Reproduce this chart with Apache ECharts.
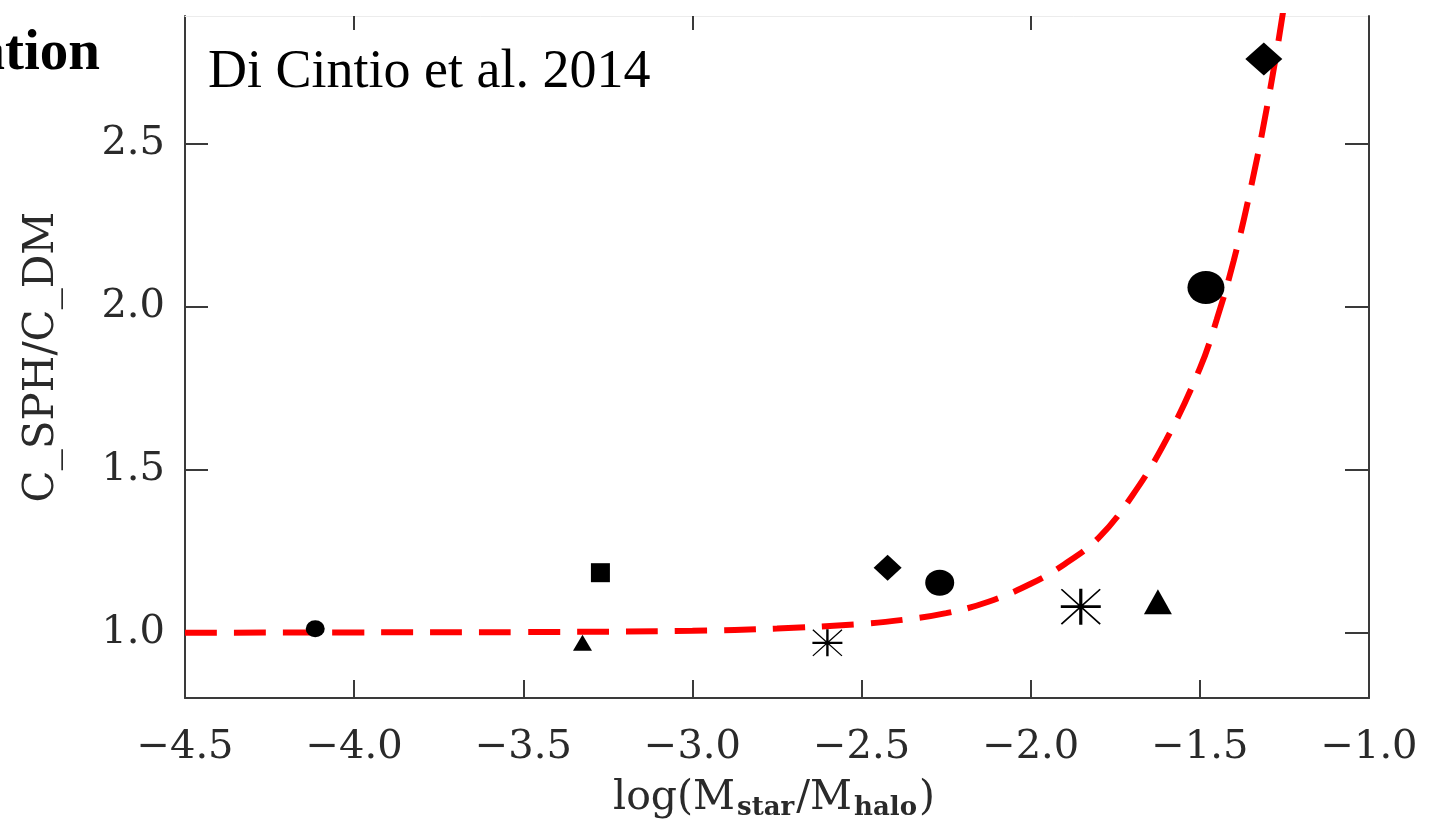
<!DOCTYPE html>
<html>
<head>
<meta charset="utf-8">
<title>Concentration ratio vs stellar-to-halo mass</title>
<script src="https://cdn.jsdelivr.net/npm/echarts@6/dist/echarts.min.js"></script>
<style>
  html, body { margin: 0; padding: 0; background: #fff; }
  #chart { width: 1429px; height: 828px; }
</style>
</head>
<body>
<div id="chart"></div>
<script>
// Simulated galaxies: log(M_star/M_halo) and c_SPH / c_DM
const pointX = [-4.115, -3.325, -3.272, -2.601, -2.423, -2.269, -1.852, -1.624, -1.482, -1.311];
const pointY = [1.012, 0.969, 1.184, 0.969, 1.199, 1.153, 1.080, 1.095, 2.058, 2.758];
const pointShape = ['circle', 'triangle', 'square', 'asterisk', 'diamond', 'circle', 'asterisk', 'triangle', 'circle', 'diamond'];

// Fitted relation (red dashed curve)
const curveX = [-4.5, -4.0, -3.5, -3.0, -2.75, -2.5, -2.375, -2.25, -2.125, -2.0, -1.9, -1.8, -1.7, -1.6, -1.5, -1.45, -1.4, -1.35, -1.3, -1.25, -1.2];
const curveY = [1.000, 1.001, 1.002, 1.006, 1.013, 1.027, 1.040, 1.060, 1.095, 1.150, 1.210, 1.290, 1.420, 1.590, 1.810, 1.960, 2.140, 2.360, 2.620, 2.930, 3.300];

// Axis ticks
const xTicks = [-4.5, -4.0, -3.5, -3.0, -2.5, -2.0, -1.5, -1.0];
const xTopTicks = [-4.0, -3.0, -2.0, -1.0];
const yTicks = [1.0, 1.5, 2.0, 2.5];
const yRange = [0.8, 2.89];

// Marker sizes per point [w, h]
const markerSize = [[19, 17], [19, 16], [19, 19], [30, 27], [28, 26], [29, 26], [40, 36], [28, 25], [37, 33], [37, 33]];

const ASTERISK = 'path://M0 46H100V54H0Z M46 0H54V100H46Z M3 0L100 97L97 100L0 3Z M97 0L100 3L3 100L0 97Z';
const symbolFor = { circle: 'circle', triangle: 'triangle', square: 'rect', diamond: 'diamond', asterisk: ASTERISK };

const fmt = v => (v < 0 ? '\u2212' : '') + Math.abs(v).toFixed(1);

// Plot frame in pixels
const W = 1429, H = 828;
const frame = { left: 185, right: 60, top: 16, bottom: 130 };
const xMin = xTicks[0], xMax = xTicks[xTicks.length - 1];
const pxPerUnit = (W - frame.left - frame.right) / (xMax - xMin);
// Second frame sharing the same x scale, starting at the first integer tick (top tick marks only)
const topLeft = frame.left + (xTopTicks[0] - xMin) * pxPerUnit;

const axisColor = '#3a3a3a';
const labelFont = { fontFamily: 'DejaVu Serif', fontSize: 40, color: '#2a2a2a' };

const chart = echarts.init(document.getElementById('chart'), null, { renderer: 'canvas' });

const option = {
  animation: false,
  backgroundColor: '#ffffff',
  grid: [
    { left: frame.left, right: frame.right, top: frame.top, bottom: frame.bottom, containLabel: false },
    { left: topLeft, right: frame.right, top: frame.top, bottom: frame.bottom, containLabel: false }
  ],
  xAxis: [
    {
      gridIndex: 0, type: 'value', position: 'bottom',
      min: xMin, max: xMax, interval: 0.5,
      axisLine: { show: true, onZero: false, lineStyle: { color: axisColor, width: 2 } },
      axisTick: { show: true, inside: true, length: 18, lineStyle: { color: axisColor, width: 2 } },
      axisLabel: Object.assign({ margin: 30, formatter: fmt, showMinLabel: true, showMaxLabel: true }, labelFont),
      splitLine: { show: false }
    },
    {
      gridIndex: 0, type: 'value', position: 'top',
      min: xMin, max: xMax, interval: 0.5,
      axisLine: { show: true, onZero: false, lineStyle: { color: '#ececec', width: 1 } },
      axisTick: { show: false },
      axisLabel: { show: false },
      splitLine: { show: false }
    },
    {
      gridIndex: 1, type: 'value', position: 'top',
      min: xTopTicks[0], max: xTopTicks[xTopTicks.length - 1], interval: 1,
      axisLine: { show: false, onZero: false },
      axisTick: { show: true, inside: true, length: 14, lineStyle: { color: axisColor, width: 2 } },
      axisLabel: { show: false },
      splitLine: { show: false }
    }
  ],
  yAxis: [
    {
      gridIndex: 0, type: 'value', position: 'left',
      min: yRange[0], max: yRange[1],
      axisLine: { show: true, onZero: false, lineStyle: { color: axisColor, width: 2 } },
      axisTick: { show: true, inside: true, length: 23, customValues: yTicks, lineStyle: { color: axisColor, width: 2 } },
      axisLabel: Object.assign({ margin: 20, customValues: yTicks, formatter: v => v.toFixed(1) }, labelFont),
      splitLine: { show: false }
    },
    {
      gridIndex: 0, type: 'value', position: 'right',
      min: yRange[0], max: yRange[1],
      axisLine: { show: true, onZero: false, lineStyle: { color: axisColor, width: 2 } },
      axisTick: { show: true, inside: true, length: 24, customValues: yTicks, lineStyle: { color: axisColor, width: 2 } },
      axisLabel: { show: false },
      splitLine: { show: false }
    },
    {
      gridIndex: 1, type: 'value', position: 'left',
      min: yRange[0], max: yRange[1],
      show: false
    }
  ],
  series: [
    {
      type: 'line',
      name: 'fit',
      xAxisIndex: 0, yAxisIndex: 0,
      data: curveX.map((x, i) => [x, curveY[i]]),
      smooth: 0.4,
      showSymbol: false,
      clip: true,
      z: 2,
      lineStyle: { color: '#ff0000', width: 6, type: [32, 17], cap: 'butt' }
    },
    {
      type: 'scatter',
      name: 'simulations',
      xAxisIndex: 0, yAxisIndex: 0,
      z: 5,
      data: pointX.map((x, i) => ({
        value: [x, pointY[i]],
        symbol: symbolFor[pointShape[i]],
        symbolSize: markerSize[i]
      })),
      itemStyle: { color: '#000000', opacity: 1 }
    }
  ],
  graphic: [
    {
      type: 'text', x: 42, y: 357, rotation: Math.PI / 2,
      style: {
        text: 'C_SPH/C_DM', fontFamily: 'DejaVu Serif', fontSize: 42, fill: '#2a2a2a',
        textAlign: 'center', textVerticalAlign: 'middle'
      }
    },
    {
      type: 'text', x: 774, y: 798,
      style: {
        text: 'log(M{sub|star}/M{sub|halo})',
        fontFamily: 'DejaVu Serif', fontSize: 41, fill: '#2a2a2a', lineHeight: 46,
        textAlign: 'center', textVerticalAlign: 'middle',
        rich: {
          sub: { fontFamily: 'DejaVu Serif', fontSize: 26, fontWeight: 'bold', fill: '#2a2a2a', lineHeight: 4, verticalAlign: 'bottom', padding: [0, 2, 0, 2] }
        }
      }
    },
    {
      type: 'text', x: 208, y: 46,
      style: {
        text: 'Di Cintio et al. 2014', fontFamily: 'Liberation Serif', fontSize: 54, fill: '#000',
        textAlign: 'left', textVerticalAlign: 'top'
      }
    },
    {
      type: 'text', x: 100, y: 26,
      style: {
        text: 'ation', fontFamily: 'Liberation Serif', fontWeight: 'bold', fontSize: 57, fill: '#000',
        textAlign: 'right', textVerticalAlign: 'top'
      }
    }
  ]
};

chart.setOption(option);
</script>
</body>
</html>
